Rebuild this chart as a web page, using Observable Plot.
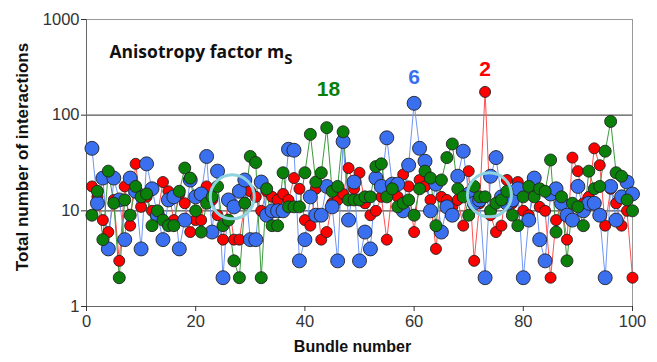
<!DOCTYPE html>
<html><head><meta charset="utf-8">
<script src="https://cdn.jsdelivr.net/npm/d3@7"></script>
<script src="https://cdn.jsdelivr.net/npm/@observablehq/plot@0.6"></script>
<style>body{margin:0;background:#fff} #chart svg{display:block}</style>
</head><body><div id="chart"></div>
<script>
const bundles = [1,2,3,4,5,6,7,8,9,10,11,12,13,14,15,16,17,18,19,20,21,22,23,24,25,26,27,28,29,30,31,32,33,34,35,36,37,38,39,40,41,42,43,44,45,46,47,48,49,50,51,52,53,54,55,56,57,58,59,60,61,62,63,64,65,66,67,68,69,70,71,72,73,74,75,76,77,78,79,80,81,82,83,84,85,86,87,88,89,90,91,92,93,94,95,96,97,98,99,100];

// m_S = 2 (red)
const redValues = [18,14,8,6,13,3,18,7,31,11, 14,10,9,20,16,8,15,12,6,8, 8,18,13,9,5,13,5,5,12,16, 14,10,16,14,13,15,13,22,17,8, 7,17,5,6,12,13,15,28,17,25, 12,9,10,14,5,16,14,24,18,6, 21,18,13,4,14,13,11,13,7,26, 3,12,175,9,6,7,21,12,20,10, 9,15,11,10,2,8,12,5,36,26, 12,14,45,30,7,17,12,7,10,2];
// m_S = 6 (blue)
const blueValues = [45,12,22,4,22,13,5,22,16,4, 31,17,9,5,13,14,4,8,21,14, 15,37,6,26,2,13,11,16,21,5, 5,20,9,10,10,10,44,43,3,5, 14,9,9,18,11,3,53,8,20,3, 6,4,22,18,58,19,19,10,30,133, 45,33,10,19,6,11,9,23,42,15, 12,13,2,23,36,14,12,13,17,2, 8,22,5,3,15,17,12,9,8,18, 10,12,12,9,2,18,8,14,20,15];
// m_S = 18 (green)
const greenValues = [9,16,5,26,12,2,13,9,18,14, 15,7,10,8,7,7,16,28,22,10, 6,12,14,18,7,8,3,2,12,37, 32,2,17,7,7,25,11,11,11,25, 63,20,25,74,16,18,67,13,13,13, 14,14,29,31,14,17,11,12,13,9, 17,26,22,7,21,36,50,17,14,9, 18,14,14,10,12,13,16,9,7,14, 18,14,17,16,34,6,14,3,12,11, 7,26,17,18,42,86,25,23,13,10];

const xTicks = [0,20,40,60,80,100];
const yTicks = [1,10,100,1000];

const seriesNames = ["2","6","18"];
const seriesColors = ["#ff0000","#3a6ff0","#0a800a"];
const lineColors = ["#ff5050","#6f96f5","#3c9a3c"];
const dotRadius = [5.5,7,6];
const seriesValues = [redValues, blueValues, greenValues];

const labelX = [73, 60, 44.3];
const labelY = [303, 250, 185];

const highlightX = [26.7, 73.8];
const highlightY = [14, 14.7];

const rows = seriesValues.map((vals, s) => bundles.map((b, i) => ({series: seriesNames[s], bundle: b, value: vals[i]})));

const seriesMarks = [];
rows.forEach((data, s) => {
  seriesMarks.push(Plot.line(data, {x: "bundle", y: "value", stroke: lineColors[s], strokeWidth: 1}));
});
rows.forEach((data, s) => {
  seriesMarks.push(Plot.dot(data, {x: "bundle", y: "value", r: dotRadius[s], fill: seriesColors[s], stroke: "#222", strokeWidth: 0.9}));
});

const plot = Plot.plot({
  width: 657, height: 362,
  marginLeft: 86, marginRight: 25, marginTop: 19, marginBottom: 56,
  style: {fontFamily: "'Liberation Sans', Arial, sans-serif", background: "#fff", color: "#333"},
  x: {domain: [0, 100]},
  y: {type: "log", domain: [1, 1000]},
  marks: [
    Plot.ruleY([10, 100], {stroke: "#555", strokeWidth: 1.2}),
    Plot.ruleY([1000], {stroke: "#999"}),
    Plot.ruleX([100], {stroke: "#999"}),
    Plot.ruleX([0], {stroke: "#666"}),
    Plot.ruleY([1], {stroke: "#666"}),
    Plot.axisX({ticks: xTicks, tickSize: 5, tickPadding: 4, fontSize: 16.5, label: null}),
    Plot.axisY({ticks: yTicks, tickFormat: d => String(d), tickSize: 5, tickPadding: 2, fontSize: 16.5, label: null}),
    ...seriesMarks,
    Plot.dot(highlightX, {x: d => d, y: (d, i) => highlightY[i], r: 22, stroke: "#8fd3df", strokeWidth: 3, fill: "none"}),
    Plot.text(seriesNames, {x: (d, i) => labelX[i], y: (d, i) => labelY[i], text: d => d, fill: (d, i) => seriesColors[i], fontSize: 21, fontWeight: "bold"}),
    Plot.text(["Anisotropy factor m"], {x: 4.2, y: 451, text: d => d, textAnchor: "start", fontSize: 17.5, fontWeight: "bold", fontFamily: "'Open Sans', sans-serif", fill: "#111"}),
    Plot.text(["Bundle number"], {frameAnchor: "bottom", dy: 45, dx: -7, text: d => d, textAnchor: "middle", fontSize: 16, fontWeight: "bold", fill: "#111"}),
    Plot.text(["Total number of interactions"], {frameAnchor: "left", dx: -64, dy: -6, rotate: -90, text: d => d, textAnchor: "middle", fontSize: 17, fontWeight: "bold", fill: "#111"})
  ]
});

d3.select(plot).selectAll("text").filter(function() { return this.textContent === "Anisotropy factor m"; })
  .append("tspan").attr("dy", 6).attr("font-size", 15).text("S");

document.getElementById("chart").appendChild(plot);
</script>
</body></html>
